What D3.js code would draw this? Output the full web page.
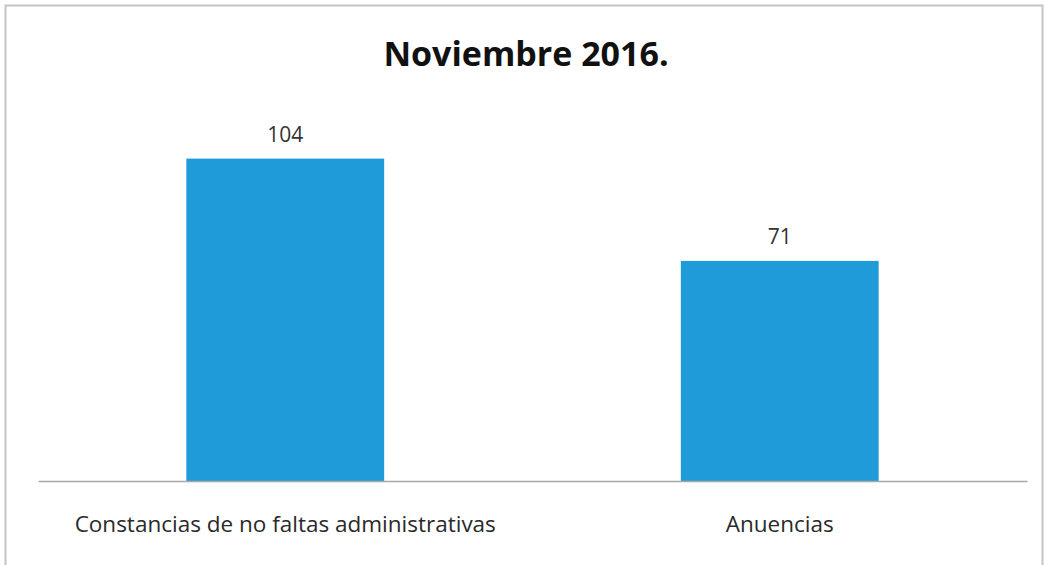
<!DOCTYPE html>
<html>
<head>
<meta charset="utf-8">
<script src="https://cdn.jsdelivr.net/npm/d3@7"></script>
<style>
  body { margin: 0; background: #fff; }
  svg { display: block; }
</style>
</head>
<body>
<div id="chart"></div>
<script>
const title = 'Noviembre 2016.';
const categories = ['Constancias de no faltas administrativas', 'Anuencias'];
const values = [104, 71];

const width = 1045, height = 565;
const margin = {left: 38, right: 18, top: 109, bottom: 84};
const plot = {width: width - margin.left - margin.right, height: height - margin.top - margin.bottom};
const font = 'Open Sans, sans-serif';

const svg = d3.select('#chart').append('svg').attr('width', width).attr('height', height);

// chart frame
svg.append('rect')
  .attr('x', 5.5).attr('y', 5.5)
  .attr('width', 1037).attr('height', 570)
  .style('fill', 'none').style('stroke', '#c4c4c4').style('stroke-width', 2);

svg.append('text')
  .attr('x', 526).attr('y', 66)
  .attr('text-anchor', 'middle')
  .style('font-family', font)
  .style('font-weight', 'bold')
  .style('font-size', '34px')
  .style('fill', '#111')
  .text(title);

const x = d3.scaleBand().domain(categories).range([0, plot.width]).paddingInner(0.6).paddingOuter(0.3);
const y = d3.scaleLinear().domain([0, 120]).range([plot.height, 0]);

const g = svg.append('g').attr('transform', 'translate(' + margin.left + ' ' + margin.top + ')');

const bars = g.selectAll('g.bar').data(values).enter().append('g').attr('class', 'bar');
bars.append('rect')
  .attr('x', function (d, i) { return x(categories[i]); })
  .attr('y', function (d) { return y(d); })
  .attr('width', x.bandwidth())
  .attr('height', function (d) { return plot.height - y(d); })
  .style('fill', '#1f9bd9');
bars.append('text')
  .attr('x', function (d, i) { return x(categories[i]) + x.bandwidth() / 2; })
  .attr('y', function (d) { return y(d) - 17; })
  .attr('text-anchor', 'middle')
  .style('font-family', font)
  .style('font-size', '21px')
  .style('fill', '#333')
  .text(function (d) { return d; });

const xAxis = d3.axisBottom(x).tickSize(0).tickPadding(35);
const xAxisBlock = g.append('g').attr('transform', 'translate(0,' + plot.height + ')').call(xAxis);
xAxisBlock.select('path').style('stroke', '#a8a8a8').style('stroke-width', 1.5);
xAxisBlock.selectAll('text')
  .style('font-family', font)
  .style('font-size', '22.5px')
  .style('fill', '#2a2a2a');
</script>
</body>
</html>
